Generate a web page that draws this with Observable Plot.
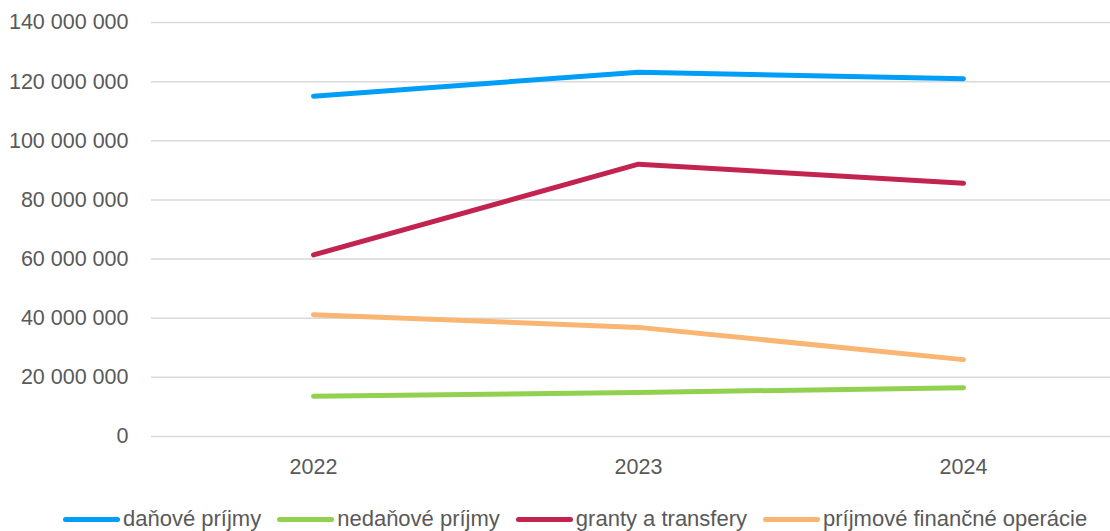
<!DOCTYPE html>
<html>
<head>
<meta charset="utf-8">
<script src="https://cdn.jsdelivr.net/npm/d3@7"></script>
<script src="https://cdn.jsdelivr.net/npm/@observablehq/plot@0.6"></script>
<style>
  html, body { margin: 0; padding: 0; background: #fff; }
  body { width: 1110px; height: 531px; overflow: hidden; font-family: "Liberation Sans", Arial, sans-serif; }
  #legend { display: flex; justify-content: flex-start; align-items: center; height: 36px; padding-left: 63px; padding-top: 6px; font-size: 22px; color: #595959; }
  .item { display: flex; align-items: center; margin-right: 16px; }
  .sw { width: 57px; height: 5px; border-radius: 3px; margin-right: 3px; }
</style>
</head>
<body>
<div id="chart"></div>
<div id="legend"></div>
<script>
const years = ["2022", "2023", "2024"];
const seriesNames = ["daňové príjmy", "nedaňové príjmy", "granty a transfery", "príjmové finančné operácie"];
const danovePrijmy = [115.1e6, 123.2e6, 121.0e6];
const nedanovePrijmy = [13.6e6, 14.9e6, 16.5e6];
const grantyTransfery = [61.4e6, 92.1e6, 85.6e6];
const financneOperacie = [41.2e6, 36.9e6, 26.0e6];
const colors = ["#009EF7", "#92D050", "#C3244F", "#F9B572"];
const yTicks = [0, 20e6, 40e6, 60e6, 80e6, 100e6, 120e6, 140e6];

const valuesBySeries = [danovePrijmy, nedanovePrijmy, grantyTransfery, financneOperacie];
const data = [];
seriesNames.forEach((s, i) => years.forEach((y, j) => data.push({ series: s, year: y, value: valuesBySeries[i][j] })));

const fmt = v => d3.format(",")(v).replace(/,/g, " ");

const chart = Plot.plot({
  width: 1110,
  height: 495,
  marginLeft: 151,
  marginRight: 0,
  marginTop: 22,
  marginBottom: 59,
  style: { fontFamily: "'Liberation Sans', Arial, sans-serif", fontSize: "21.5px", color: "#595959", background: "#fff" },
  x: { type: "point", domain: years, range: [313, 963], padding: 0, label: null },
  y: { domain: [0, 140e6], label: null },
  color: { domain: seriesNames, range: colors },
  marks: [
    Plot.ruleY(yTicks, { stroke: "#D9D9D9", strokeWidth: 1.5 }),
    Plot.axisY({ ticks: yTicks, tickFormat: fmt, tickSize: 0, tickPadding: 23, label: null, fill: "#595959" }),
    Plot.axisX({ tickSize: 0, tickPadding: 22, label: null, fill: "#595959" }),
    Plot.line(data, { x: "year", y: "value", z: "series", stroke: "series", strokeWidth: 5, strokeLinecap: "round", strokeLinejoin: "round" })
  ]
});
document.getElementById("chart").appendChild(chart);

const legend = document.getElementById("legend");
seriesNames.forEach((s, i) => {
  const it = document.createElement("div");
  it.className = "item";
  const sw = document.createElement("div");
  sw.className = "sw";
  sw.style.background = colors[i];
  const tx = document.createElement("span");
  tx.textContent = s;
  it.appendChild(sw);
  it.appendChild(tx);
  legend.appendChild(it);
});
</script>
</body>
</html>
